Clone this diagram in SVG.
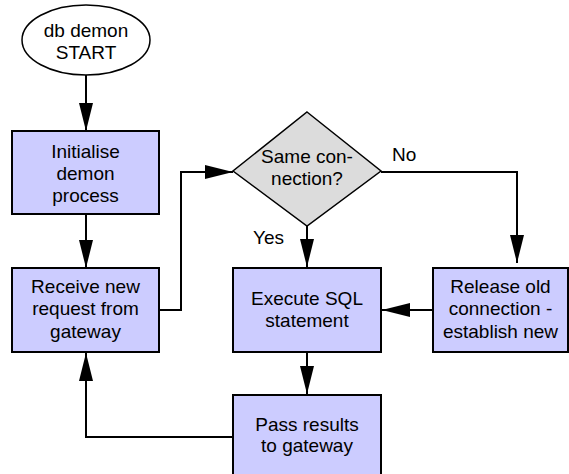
<svg xmlns="http://www.w3.org/2000/svg" width="569" height="474" viewBox="0 0 569 474">
<style>
.box{fill:#ccccff;stroke:#000;stroke-width:2}
.dec{fill:#dcdcdc;stroke:#000;stroke-width:1.5}
.term{fill:#fff;stroke:#000;stroke-width:1.5}
.t{font-family:"Liberation Sans",Arial,sans-serif;font-size:19px;fill:#000;text-anchor:middle}
.l{font-family:"Liberation Sans",Arial,sans-serif;font-size:19px;fill:#000}
.c{fill:none;stroke:#000;stroke-width:2;marker-end:url(#ah)}
.n{fill:none;stroke:#000;stroke-width:2}
</style>
<defs>
<marker id="ah" markerUnits="userSpaceOnUse" markerWidth="28" markerHeight="16" refX="28" refY="8" orient="auto">
<path d="M0,1 L28,8 L0,15 z" fill="#000"/>
</marker>
</defs>
<g id="connectors">
<path class="c" d="M86,75 L86,131"/>
<path class="c" d="M86,214 L86,268"/>
<path class="c" d="M159,310 L181,310 L181,172 L233,172"/>
<path class="c" d="M307,226 L307,267"/>
<path class="c" d="M381,172 L517,172 L517,263"/>
<path class="c" d="M433,310 L382,310"/>
<path class="c" d="M307,352 L307,394"/>
<path class="c" d="M233,437 L86,437 L86,353"/>
</g>
<g id="start">
<ellipse class="term" cx="86" cy="40" rx="64" ry="35"/>
<text class="t" x="86" y="37">db demon</text>
<text class="t" x="86" y="59">START</text>
</g>
<g id="init">
<rect class="box" x="12" y="131" width="147" height="83"/>
<text class="t" x="85.5" y="158">Initialise</text>
<text class="t" x="85.5" y="180">demon</text>
<text class="t" x="85.5" y="202">process</text>
</g>
<g id="receive">
<rect class="box" x="12" y="268" width="147" height="84"/>
<text class="t" x="85.5" y="293">Receive new</text>
<text class="t" x="85.5" y="315">request from</text>
<text class="t" x="85.5" y="338">gateway</text>
</g>
<g id="decision">
<polygon class="dec" points="307,112 381,171 307,226 233,171"/>
<text class="t" x="307" y="163">Same con-</text>
<text class="t" x="307" y="185">nection?</text>
</g>
<g id="labels">
<text class="l" x="392" y="161">No</text>
<text class="l" x="253" y="244">Yes</text>
</g>
<g id="execute">
<rect class="box" x="233" y="268" width="148" height="84"/>
<text class="t" x="307" y="305">Execute SQL</text>
<text class="t" x="307" y="327">statement</text>
</g>
<g id="release">
<rect class="box" x="433" y="268" width="135" height="84"/>
<text class="t" x="500.5" y="293">Release old</text>
<text class="t" x="500.5" y="315">connection -</text>
<text class="t" x="500.5" y="338">establish new</text>
</g>
<g id="pass">
<rect class="box" x="233" y="395" width="148" height="84"/>
<text class="t" x="307" y="431">Pass results</text>
<text class="t" x="307" y="452">to gateway</text>
</g>
</svg>
